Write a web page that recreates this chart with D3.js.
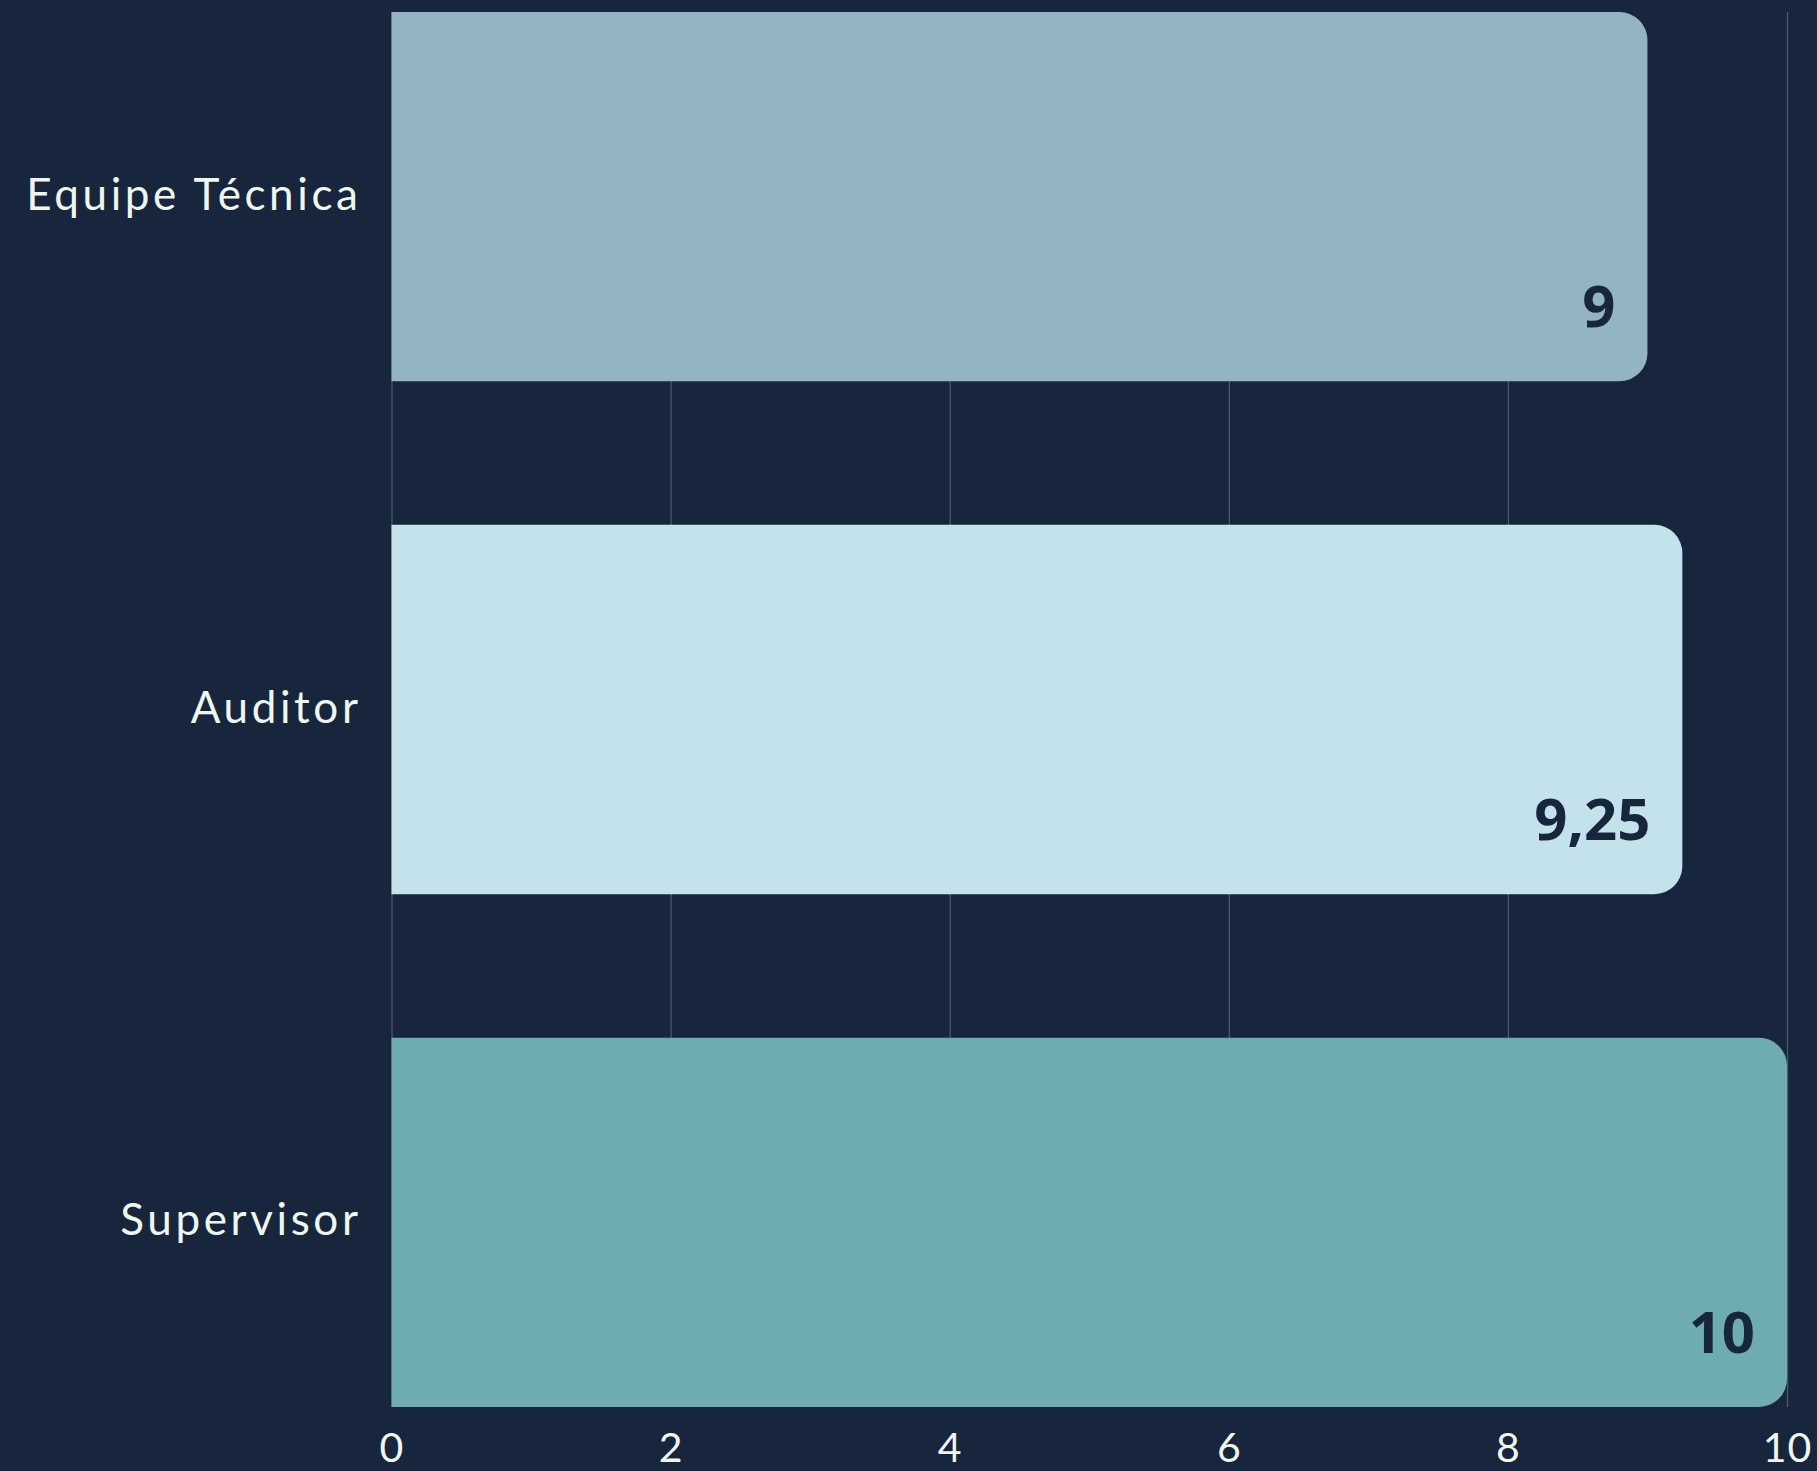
<!DOCTYPE html>
<html>
<head>
<meta charset="utf-8">
<script src="https://cdn.jsdelivr.net/npm/d3@7"></script>
<style>
  html, body { margin: 0; padding: 0; background: #17263d; }
  svg { display: block; }
</style>
</head>
<body>
<div id="chart"></div>
<script>
// data
const categories = ["Equipe Técnica", "Auditor", "Supervisor"];
const values = [9, 9.25, 10];
const barColors = ["#92b5c1", "#c4e2eb", "#6eacb0"];
const xTicks = [0, 2, 4, 6, 8, 10];

const W = 1817, H = 1471;
const plotLeft = 391.5, plotRight = 1787, plotTop = 12, plotBottom = 1407;
const bg = "#17263d";
const textColor = "#eff6ee";

const fmt = v => String(v).replace(".", ",");

const svg = d3.select("#chart").append("svg")
  .attr("xmlns", "http://www.w3.org/2000/svg")
  .attr("width", W)
  .attr("height", H);

svg.append("rect").attr("width", W).attr("height", H).attr("fill", bg);

const x = d3.scaleLinear().domain([0, 10]).range([plotLeft, plotRight]);
const y = d3.scaleBand().domain(categories).range([plotTop, plotBottom])
  .paddingInner(0.28).paddingOuter(0);

/* grid + tick labels */
const xAxis = d3.axisBottom(x).tickValues(xTicks).tickSize(-(plotBottom - plotTop)).tickFormat(d => d);
const gx = svg.append("g")
  .attr("transform", `translate(0,${plotBottom})`)
  .call(xAxis);
gx.select(".domain").remove();
gx.selectAll(".tick line").attr("stroke", "#4c5b6f").attr("stroke-width", 1.2);
gx.selectAll(".tick text")
  .attr("fill", textColor)
  .attr("font-family", "Lato, 'Open Sans', sans-serif")
  .attr("font-size", 41)
  .attr("letter-spacing", 1)
  .attr("dy", null)
  .attr("y", 55);

/* bars with rounded right end */
const r = 28;
function barPath(d, i) {
  const x0 = x(0), x1 = x(values[i]);
  const y0 = y(categories[i]), h = y.bandwidth();
  const p = d3.path();
  p.moveTo(x0, y0);
  p.lineTo(x1 - r, y0);
  p.arcTo(x1, y0, x1, y0 + r, r);
  p.lineTo(x1, y0 + h - r);
  p.arcTo(x1, y0 + h, x1 - r, y0 + h, r);
  p.lineTo(x0, y0 + h);
  p.closePath();
  return p.toString();
}

svg.append("g").selectAll("path")
  .data(values).enter()
  .append("path")
  .attr("d", barPath)
  .attr("fill", (d, i) => barColors[i]);

/* value labels inside bars */
svg.append("g").selectAll("text")
  .data(values).enter()
  .append("text")
  .attr("x", (d, i) => x(d) - 32)
  .attr("y", (d, i) => y(categories[i]) + y.bandwidth() - 54)
  .attr("text-anchor", "end")
  .attr("fill", bg)
  .attr("font-family", "'Open Sans', sans-serif")
  .attr("font-weight", 700)
  .attr("font-size", 58)
  .text(d => fmt(d));

/* category labels */
svg.append("g").selectAll("text")
  .data(categories).enter()
  .append("text")
  .attr("x", plotLeft - 30)
  .attr("y", d => y(d) + y.bandwidth() / 2 + 13)
  .attr("text-anchor", "end")
  .attr("fill", textColor)
  .attr("font-family", "Lato, 'Open Sans', sans-serif")
  .attr("font-size", 44)
  .attr("letter-spacing", 3.6)
  .text(d => d);
</script>
</body>
</html>
